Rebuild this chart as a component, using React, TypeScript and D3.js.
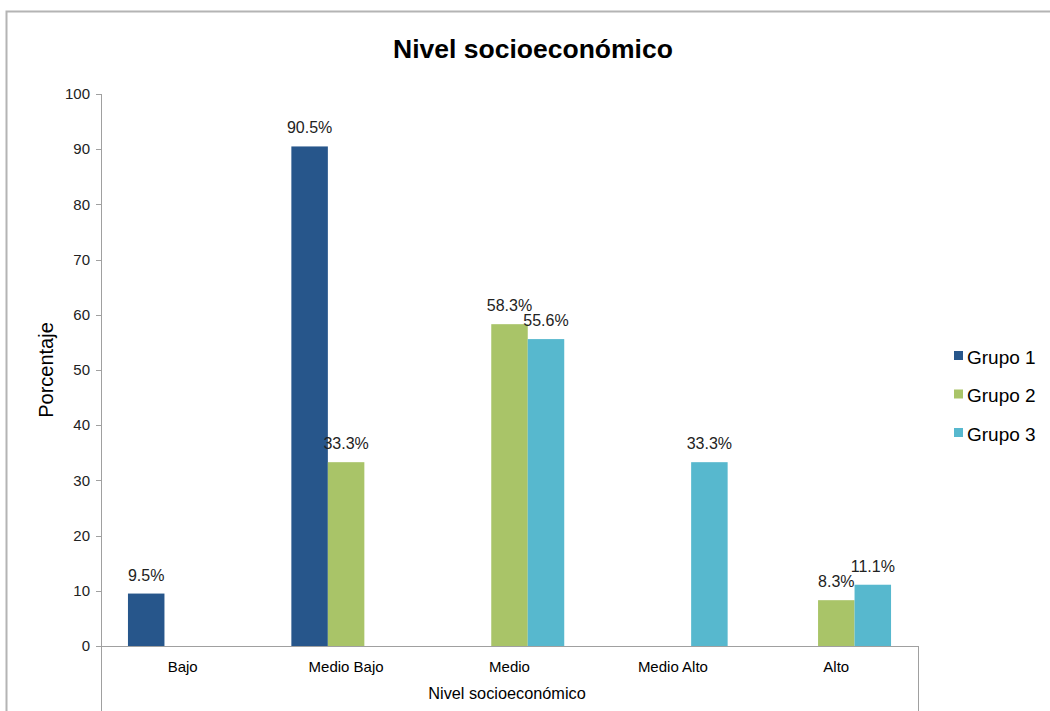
import React from "react";
import * as d3 from "d3";

const categories = ["Bajo", "Medio Bajo", "Medio", "Medio Alto", "Alto"];
const seriesNames = ["Grupo 1", "Grupo 2", "Grupo 3"];
const grupo1: (number | null)[] = [9.5, 90.5, null, null, null];
const grupo2: (number | null)[] = [null, 33.3, 58.3, null, 8.3];
const grupo3: (number | null)[] = [null, null, 55.6, 33.3, 11.1];
const seriesValues = [grupo1, grupo2, grupo3];
const colors = ["#27568B", "#A9C468", "#57B8CE"];
const yTicks = [0, 10, 20, 30, 40, 50, 60, 70, 80, 90, 100];

const W = 1050;
const H = 711;
const left = 101;
const right = 918;
const top = 94;
const bottom = 646;
const font = "'Liberation Sans', Arial, sans-serif";

export default function App() {
  const x0 = d3
    .scaleBand<string>()
    .domain(categories)
    .range([left, right])
    .paddingInner(0.33)
    .paddingOuter(0.165);
  const x1 = d3
    .scaleBand<string>()
    .domain(seriesNames)
    .range([0, x0.bandwidth()]);
  const y = d3.scaleLinear().domain([0, 100]).range([bottom, top]);

  return (
    <div style={{ position: "absolute", left: 0, top: 0 }}>
      <svg width={W} height={H} style={{ display: "block" }} fontFamily={font}>
        <rect x={0} y={0} width={W} height={H} fill="#fff" />
        <rect x={6.5} y={11.5} width={W + 20} height={H + 20} fill="none" stroke="#b4b4b4" strokeWidth={2} />
        <text x={533} y={58} textAnchor="middle" fontSize={26.5} fontWeight="bold" fill="#000">
          Nivel socioeconómico
        </text>
        {/* y axis */}
        <line x1={left + 0.5} x2={left + 0.5} y1={top} y2={H} stroke="#a0a0a0" strokeWidth={1} />
        {yTicks.map((t) => (
          <g key={t}>
            <line x1={left - 5} x2={left} y1={Math.round(y(t)) + 0.5} y2={Math.round(y(t)) + 0.5} stroke="#a0a0a0" />
            <text x={left - 11} y={y(t)} dy="0.35em" textAnchor="end" fontSize={15} fill="#222">
              {t}
            </text>
          </g>
        ))}
        <text
          transform={`translate(53,370) rotate(-90)`}
          textAnchor="middle"
          fontSize={20}
          fill="#000"
        >
          Porcentaje
        </text>
        {/* bars */}
        {categories.map((c, ci) => (
          <g key={c}>
            {seriesNames.map((s, si) => {
              const v = seriesValues[si][ci];
              if (v === null) return null;
              const bx = (x0(c) as number) + (x1(s) as number);
              return (
                <g key={s}>
                  <rect x={bx} y={y(v)} width={x1.bandwidth()} height={bottom - y(v)} fill={colors[si]} />
                  <text
                    x={bx + x1.bandwidth() / 2}
                    y={y(v) - 13}
                    textAnchor="middle"
                    fontSize={16}
                    fill="#222"
                  >
                    {v.toFixed(1) + "%"}
                  </text>
                </g>
              );
            })}
            <text
              x={(x0(c) as number) + x0.bandwidth() / 2}
              y={672}
              textAnchor="middle"
              fontSize={15}
              fill="#000"
            >
              {c}
            </text>
          </g>
        ))}
        {/* x axis */}
        <line x1={left - 5} x2={right} y1={bottom + 0.5} y2={bottom + 0.5} stroke="#a0a0a0" />
        <line x1={right + 0.5} x2={right + 0.5} y1={bottom} y2={H} stroke="#a0a0a0" />
        <text x={507} y={699} textAnchor="middle" fontSize={16.3} fill="#000">
          Nivel socioeconómico
        </text>
        {/* legend */}
        {seriesNames.map((s, i) => (
          <g key={s} transform={`translate(954,${357 + i * 38.5})`}>
            <rect x={0} y={-6} width={9} height={9} fill={colors[i]} />
            <text x={13} y={0} dy="0.35em" fontSize={19} fill="#000">
              {s}
            </text>
          </g>
        ))}
      </svg>
    </div>
  );
}
